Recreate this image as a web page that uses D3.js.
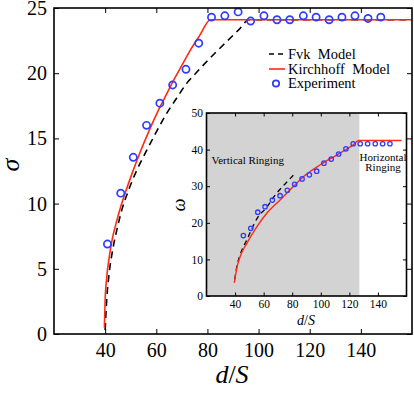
<!DOCTYPE html>
<html>
<head>
<meta charset="utf-8">
<script src="https://cdn.jsdelivr.net/npm/d3@7"></script>
<style>
  body { margin: 0; background: #fff; }
  svg { display: block; font-family: "Liberation Serif", "DejaVu Serif", serif; }
</style>
</head>
<body>
<svg id="chart" width="414" height="393"></svg>
<script>
// main panel: sigma vs d/S
const mainXTicks = [40, 60, 80, 100, 120, 140];
const mainYTicks = [0, 5, 10, 15, 20, 25];

const kirchX = [39.7, 40, 40.6, 41.6, 42.8, 44.3, 46, 48, 50.5, 53.6, 57, 60.2, 63.5, 66.6, 70, 73.1, 77, 81.2, 160];
const kirchY = [0.5, 2.6, 4.3, 5.9, 7.3, 8.5, 9.7, 10.9, 12.3, 13.9, 15.5, 16.9, 18.2, 19.4, 20.6, 21.7, 22.9, 24.1, 24.1];

const fvkX = [40, 40.6, 41.6, 42.9, 44.6, 46.5, 49.1, 52, 55, 59.5, 64, 68, 71.8, 75, 78.3, 82.2, 87.4, 92.6, 96.2, 160];
const fvkY = [0.3, 2.6, 4.7, 6.4, 8.0, 9.5, 11.0, 12.4, 13.6, 15.3, 16.9, 18.1, 19.2, 19.9, 20.6, 21.4, 22.4, 23.4, 24.1, 24.1];

const expX = [40.9, 46.1, 51.0, 56.2, 61.4, 66.4, 71.6, 76.6, 81.6, 86.8, 92.0, 96.9, 102.1, 107.2, 112.2, 117.5, 122.5, 127.6, 132.6, 137.7, 142.8, 147.8];
const expY = [6.9, 10.8, 13.55, 16.0, 17.7, 19.1, 20.3, 22.3, 24.3, 24.4, 24.7, 24.0, 24.4, 24.1, 24.1, 24.4, 24.3, 24.1, 24.3, 24.4, 24.2, 24.3];

// inset: omega vs d/S
const insetXTicks = [40, 60, 80, 100, 120, 140];
const insetYTicks = [0, 10, 20, 30, 40, 50];
const verticalRegion = [20, 127];

const inKirchX = [39.5, 41.2, 43.5, 48.2, 55.2, 62.2, 71.5, 80.8, 87.8, 99.4, 111.1, 122.7, 126.5, 156.5];
const inKirchY = [3.6, 7.6, 10.7, 14.4, 18.9, 22.6, 26.2, 29.9, 32.6, 35.8, 38.5, 41.3, 42.5, 42.5];

const inFvkX = [39.8, 41.2, 43.5, 48.2, 55.9, 61.7, 68.7, 74.5, 80.8];
const inFvkY = [4.5, 8.0, 11.2, 15.3, 21.5, 24.0, 27.9, 30.4, 33.0];

const inExpX = [45.8, 51.0, 55.9, 61.0, 66.1, 71.5, 76.6, 81.7, 86.9, 92.0, 97.1, 102.2, 107.3, 112.5, 117.6, 122.7, 127.6, 132.8, 138.1, 143.3, 148.4];
const inExpY = [16.5, 18.5, 22.9, 24.4, 26.2, 27.4, 28.9, 30.5, 32.0, 33.1, 34.1, 36.3, 37.4, 38.8, 40.2, 41.6, 41.6, 41.6, 41.6, 41.6, 41.6];

const RED = '#ff2a12';
const BLUE = '#2e3cff';

const svg = d3.select('#chart');
const zip = (xs, ys) => xs.map((x, i) => [x, ys[i]]);

// ---------- main panel ----------
const x = d3.scaleLinear().domain([20, 160]).range([54, 412]);
const y = d3.scaleLinear().domain([0, 25]).range([334, 8]);

function frameAxes(g, xs, ys, xt, yt, tick, fontSize, padX, padY) {
    const [x0, x1] = xs.range();
    const [y0, y1] = ys.range();
    g.append('g').attr('transform', `translate(0,${y0})`)
        .call(d3.axisBottom(xs).tickValues(xt).tickSize(-tick).tickSizeOuter(0).tickPadding(padX))
        .call(a => a.select('.domain').remove())
        .call(a => a.selectAll('text').attr('font-size', fontSize).attr('font-family', 'Liberation Serif'));
    g.append('g').attr('transform', `translate(0,${y1})`)
        .call(d3.axisTop(xs).tickValues(xt).tickSize(-tick).tickSizeOuter(0).tickFormat(''))
        .call(a => a.select('.domain').remove());
    g.append('g').attr('transform', `translate(${x0},0)`)
        .call(d3.axisLeft(ys).tickValues(yt).tickSize(-tick).tickSizeOuter(0).tickPadding(padY))
        .call(a => a.select('.domain').remove())
        .call(a => a.selectAll('text').attr('font-size', fontSize).attr('font-family', 'Liberation Serif'));
    g.append('g').attr('transform', `translate(${x1},0)`)
        .call(d3.axisRight(ys).tickValues(yt).tickSize(-tick).tickSizeOuter(0).tickFormat(''))
        .call(a => a.select('.domain').remove());
    g.selectAll('.tick line').attr('stroke', '#000').attr('stroke-width', 1);
    g.append('rect')
        .attr('x', x0).attr('y', y1)
        .attr('width', x1 - x0).attr('height', y0 - y1)
        .attr('fill', 'none').attr('stroke', '#000').attr('stroke-width', 1.6);
}

const main = svg.append('g');

const line = (xs, ys, curve) => d3.line().x(d => xs(d[0])).y(d => ys(d[1])).curve(curve);

main.append('path')
    .datum(zip(fvkX, fvkY))
    .attr('d', line(x, y, d3.curveMonotoneX))
    .attr('fill', 'none').attr('stroke', '#000').attr('stroke-width', 1.6)
    .attr('stroke-dasharray', '7,5');

main.append('path')
    .datum(zip(kirchX, kirchY))
    .attr('d', line(x, y, d3.curveMonotoneX))
    .attr('fill', 'none').attr('stroke', RED).attr('stroke-width', 1.6);

main.selectAll('circle.exp')
    .data(zip(expX, expY))
    .join('circle')
    .attr('class', 'exp')
    .attr('cx', d => x(d[0])).attr('cy', d => y(d[1]))
    .attr('r', 3.6)
    .attr('fill', 'none').attr('stroke', BLUE).attr('stroke-width', 1.7);

frameAxes(main, x, y, mainXTicks, mainYTicks, 5, 20, 9, 7);

// axis labels
main.append('text')
    .attr('transform', 'translate(19,165) rotate(-90)')
    .attr('text-anchor', 'middle')
    .attr('font-size', 26).attr('font-style', 'italic')
    .text('σ');

const xl = main.append('text')
    .attr('x', 232).attr('y', 383)
    .attr('text-anchor', 'middle')
    .attr('font-size', 26);
xl.append('tspan').attr('font-style', 'italic').text('d');
xl.append('tspan').text('/');
xl.append('tspan').attr('font-style', 'italic').text('S');

// legend
const legend = main.append('g');
legend.append('line').attr('x1', 269).attr('x2', 285).attr('y1', 54).attr('y2', 54)
    .attr('stroke', '#000').attr('stroke-width', 1.6).attr('stroke-dasharray', '5,4');
legend.append('line').attr('x1', 269).attr('x2', 285).attr('y1', 69).attr('y2', 69)
    .attr('stroke', RED).attr('stroke-width', 1.6);
legend.append('circle').attr('cx', 276).attr('cy', 83.5).attr('r', 3.2)
    .attr('fill', 'none').attr('stroke', BLUE).attr('stroke-width', 1.7);
[['Fvk  Model', 58.5], ['Kirchhoff  Model', 73.5], ['Experiment', 88]].forEach(([t, ty]) => {
    legend.append('text').attr('x', 288).attr('y', ty)
        .attr('font-size', 14.5).style('white-space', 'pre').text(t);
});

// ---------- inset ----------
const ix = d3.scaleLinear().domain([20, 160]).range([206.5, 406.5]);
const iy = d3.scaleLinear().domain([0, 50]).range([296, 113]);

const inset = svg.append('g');
inset.append('rect')
    .attr('x', ix(20)).attr('y', iy(50))
    .attr('width', ix(160) - ix(20)).attr('height', iy(0) - iy(50))
    .attr('fill', '#fff');
inset.append('rect')
    .attr('x', ix(verticalRegion[0])).attr('y', iy(50))
    .attr('width', ix(verticalRegion[1]) - ix(verticalRegion[0])).attr('height', iy(0) - iy(50))
    .attr('fill', '#d3d3d3');

inset.append('path')
    .datum(zip(inFvkX, inFvkY))
    .attr('d', line(ix, iy, d3.curveMonotoneX))
    .attr('fill', 'none').attr('stroke', '#000').attr('stroke-width', 1.3)
    .attr('stroke-dasharray', '5,4');

inset.append('path')
    .datum(zip(inKirchX, inKirchY))
    .attr('d', line(ix, iy, d3.curveMonotoneX))
    .attr('fill', 'none').attr('stroke', RED).attr('stroke-width', 1.4);

inset.selectAll('circle.iexp')
    .data(zip(inExpX, inExpY))
    .join('circle')
    .attr('class', 'iexp')
    .attr('cx', d => ix(d[0])).attr('cy', d => iy(d[1]))
    .attr('r', 2.2)
    .attr('fill', 'none').attr('stroke', BLUE).attr('stroke-width', 1.3);

frameAxes(inset, ix, iy, insetXTicks, insetYTicks, 3.5, 11.5, 4, 3.5);

inset.append('text')
    .attr('x', 211.5).attr('y', 164)
    .attr('font-size', 11).text('Vertical Ringing');
inset.append('text')
    .attr('x', 383).attr('y', 160.5)
    .attr('text-anchor', 'middle')
    .attr('font-size', 11).text('Horizontal');
inset.append('text')
    .attr('x', 383).attr('y', 171)
    .attr('text-anchor', 'middle')
    .attr('font-size', 11).text('Ringing');

inset.append('text')
    .attr('transform', 'translate(185,205) rotate(-90)')
    .attr('text-anchor', 'middle')
    .attr('font-size', 18).attr('font-style', 'italic')
    .text('ω');

const ixl = inset.append('text')
    .attr('x', 306).attr('y', 325)
    .attr('text-anchor', 'middle')
    .attr('font-size', 14);
ixl.append('tspan').attr('font-style', 'italic').text('d');
ixl.append('tspan').text('/');
ixl.append('tspan').attr('font-style', 'italic').text('S');
</script>
</body>
</html>
